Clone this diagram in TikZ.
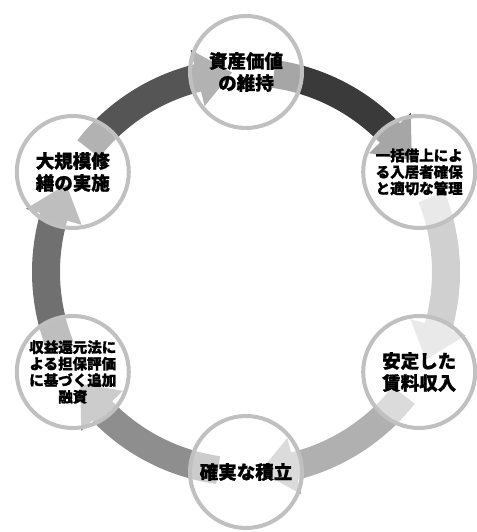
\documentclass[tikz,border=0pt]{standalone}
\usepackage{fontspec}
\newfontfamily\jp{Noto Sans CJK JP}[BoldFeatures={FakeBold=1.2}]
\definecolor{cA}{HTML}{3A3A3A}
\definecolor{cB}{HTML}{D0D0D0}
\definecolor{cC}{HTML}{B0B0B0}
\definecolor{cD}{HTML}{8E8E8E}
\definecolor{cE}{HTML}{707070}
\definecolor{cF}{HTML}{555555}
\definecolor{ring}{HTML}{C0C0C0}
\tikzset{
  stage/.style={circle, draw=ring, line width=4bp, fill=white, fill opacity=0.55, text opacity=1,
    minimum size=112bp, inner sep=0pt, align=center, font=\jp\bfseries\fontsize{18.5bp}{22bp}\selectfont},
  small/.style={font=\jp\bfseries\fontsize{14.5bp}{16.5bp}\selectfont}
}
\newcommand{\cyclearrow}[3]{%
  % #1 source angle, #2 target angle, #3 colour
  \pgfmathsetmacro{\ts}{#1-8}%
  \pgfmathsetmacro{\tb}{#2+14}%
  \pgfmathsetmacro{\tt}{#2+4}%
  \fill[#3] (\ts:214bp) arc[start angle=\ts, end angle=\tb, radius=214bp]
    -- (\tb:229bp) -- (\tt:200bp) -- (\tb:171bp) -- (\tb:186bp)
    arc[start angle=\tb, end angle=\ts, radius=186bp] -- cycle;%
}
\begin{document}
\begin{tikzpicture}[x=1bp,y=1bp]
\useasboundingbox (0,0) rectangle (477,532);
\begin{scope}[shift={(246,260)}]
  \coordinate (o) at (0,0);
  \cyclearrow{90}{30}{cA}
  \cyclearrow{30}{-30}{cB}
  \cyclearrow{-30}{-90}{cC}
  \cyclearrow{-90}{-150}{cD}
  \cyclearrow{-150}{-210}{cE}
  \cyclearrow{150}{90}{cF}
  \node[stage] (top) at (90:200) {資産価値\\の維持};
  \node[stage, small] (ur) at (30:200) {一括借上によ\\る入居者確保\\と適切な管理};
  \node[stage] (lr) at (-30:200) {安定した\\賃料収入};
  \node[stage] (bot) at (-90:200) {確実な積立};
  \node[stage, small] (ll) at (-150:200) {収益還元法に\\よる担保評価\\に基づく追加\\融資};
  \node[stage] (ul) at (150:200) {大規模修\\繕の実施};
\end{scope}
\end{tikzpicture}
\end{document}
